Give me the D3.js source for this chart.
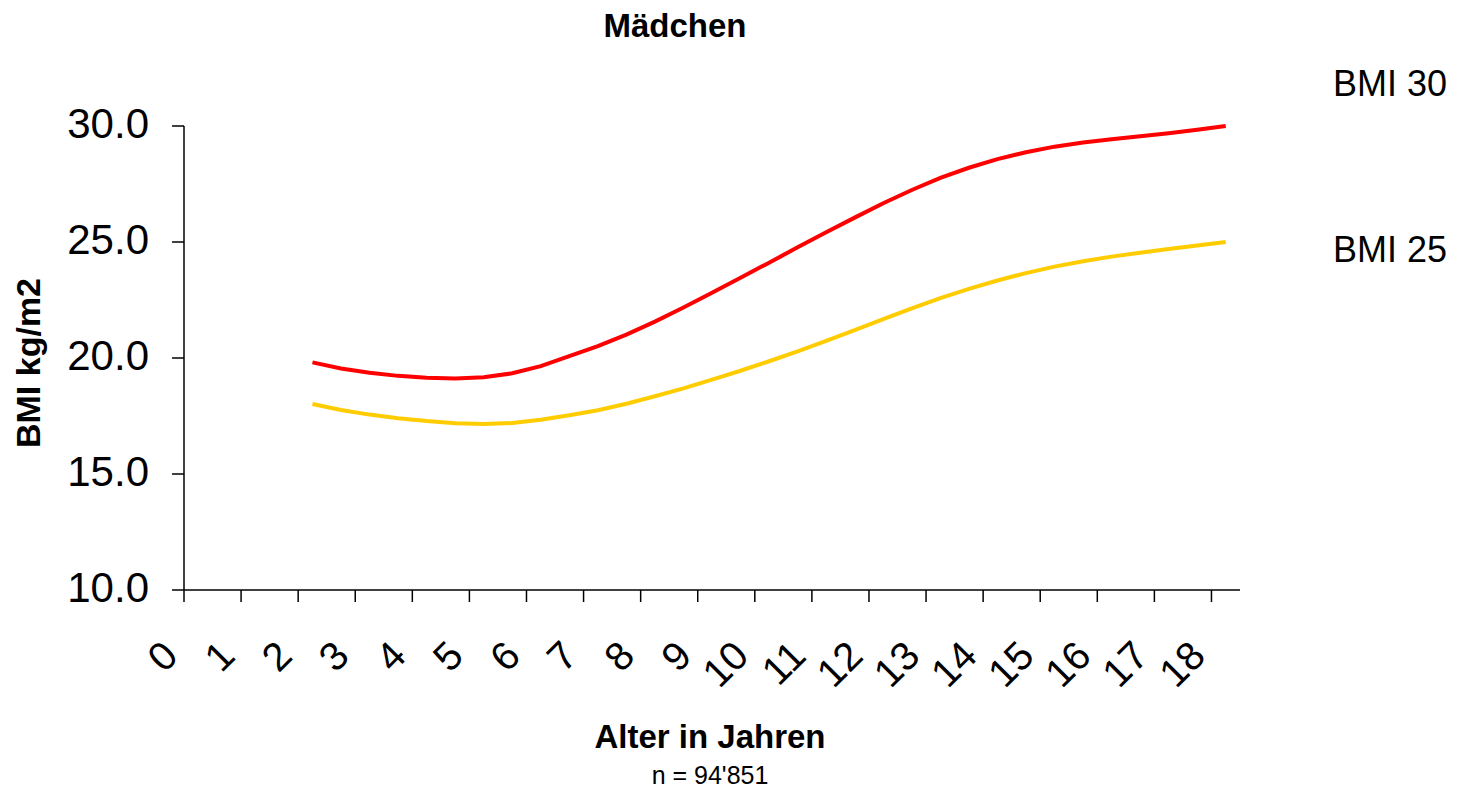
<!DOCTYPE html>
<html>
<head>
<meta charset="utf-8">
<script src="https://cdn.jsdelivr.net/npm/d3@7"></script>
<style>
  body { margin: 0; background: #fff; }
  text { font-family: Arial, "Liberation Sans", sans-serif; fill: #000; }
</style>
</head>
<body>
<script>
// categories (half years on the axis)
const halfYears = ["0","0.5","1","1.5","2","2.5","3","3.5","4","4.5","5","5.5","6","6.5","7","7.5","8","8.5","9","9.5",
  "10","10.5","11","11.5","12","12.5","13","13.5","14","14.5","15","15.5","16","16.5","17","17.5","18"];
const yearLabels = ["0","1","2","3","4","5","6","7","8","9","10","11","12","13","14","15","16","17","18"];
const yTicks = [10, 15, 20, 25, 30];

// data ages 2..18
const ages = ["2","2.5","3","3.5","4","4.5","5","5.5","6","6.5","7","7.5","8","8.5","9","9.5",
  "10","10.5","11","11.5","12","12.5","13","13.5","14","14.5","15","15.5","16","16.5","17","17.5","18"];
const bmi30 = [19.81,19.55,19.36,19.23,19.15,19.12,19.17,19.34,19.65,20.08,20.51,21.01,21.57,22.18,22.81,23.46,
  24.11,24.77,25.42,26.05,26.67,27.24,27.76,28.20,28.57,28.87,29.11,29.29,29.43,29.56,29.69,29.84,30.0];
const bmi25 = [18.02,17.76,17.56,17.40,17.28,17.19,17.15,17.20,17.34,17.53,17.75,18.03,18.35,18.69,19.07,19.45,
  19.86,20.29,20.74,21.20,21.68,22.14,22.58,22.98,23.34,23.66,23.94,24.17,24.37,24.54,24.70,24.85,25.0];

let width = 1461, height = 788;
let margin = {top: 126, bottom: 198, left: 184, right: 221};

let svg = d3.select('body')
  .append('svg')
    .attr('width', width)
    .attr('height', height);

// Scales
let xScale = d3.scaleBand()
  .domain(halfYears)
  .range([margin.left, width - margin.right])
  .paddingInner(0).paddingOuter(0);

let yScale = d3.scaleLinear()
  .domain([10, 30])
  .range([height - margin.bottom, margin.top]);

let y0 = yScale(10);

// Y axis
svg.append('line')
  .attr('x1', margin.left).attr('x2', margin.left)
  .attr('y1', yScale(30)).attr('y2', y0)
  .attr('stroke', '#000').attr('stroke-width', 1.5);

svg.selectAll('.ytick')
  .data(yTicks)
  .enter().append('line')
    .attr('x1', margin.left - 12).attr('x2', margin.left)
    .attr('y1', d => yScale(d)).attr('y2', d => yScale(d))
    .attr('stroke', '#000').attr('stroke-width', 1.5);

svg.selectAll('.ylab')
  .data(yTicks)
  .enter().append('text')
    .attr('x', 149)
    .attr('y', d => yScale(d) - 3)
    .attr('dy', '0.36em')
    .attr('text-anchor', 'end')
    .style('font-size', '42px')
    .text(d => d.toFixed(1));

// X axis
svg.append('line')
  .attr('x1', margin.left).attr('x2', width - margin.right)
  .attr('y1', y0).attr('y2', y0)
  .attr('stroke', '#000').attr('stroke-width', 1.5);

svg.selectAll('.xtick')
  .data(yearLabels)
  .enter().append('line')
    .attr('x1', d => xScale(d)).attr('x2', d => xScale(d))
    .attr('y1', y0).attr('y2', y0 + 12)
    .attr('stroke', '#000').attr('stroke-width', 1.5);

svg.selectAll('.xlab')
  .data(yearLabels)
  .enter().append('text')
    .attr('transform', d => `translate(${xScale(d) - 4},${y0 + 68}) rotate(-45)`)
    .attr('text-anchor', 'end')
    .style('font-size', '40px')
    .text(d => d);

// Lines
let line = d3.line()
  .x((d, i) => xScale(ages[i]) + xScale.bandwidth() / 2)
  .y(d => yScale(d));

svg.append('path')
  .datum(bmi25)
  .attr('d', line)
  .attr('fill', 'none')
  .attr('stroke', '#FFCC00')
  .attr('stroke-width', 4);

svg.append('path')
  .datum(bmi30)
  .attr('d', line)
  .attr('fill', 'none')
  .attr('stroke', '#FF0000')
  .attr('stroke-width', 4);

// Texts
svg.append('text')
  .attr('x', 675).attr('y', 37)
  .attr('text-anchor', 'middle')
  .style('font-size', '33px').style('font-weight', 'bold')
  .text('Mädchen');

svg.append('text')
  .attr('x', 1447).attr('y', 96)
  .attr('text-anchor', 'end')
  .style('font-size', '36px')
  .text('BMI 30');

svg.append('text')
  .attr('x', 1447).attr('y', 262)
  .attr('text-anchor', 'end')
  .style('font-size', '36px')
  .text('BMI 25');

svg.append('text')
  .attr('transform', `translate(40,363) rotate(-90)`)
  .attr('text-anchor', 'middle')
  .style('font-size', '34px').style('font-weight', 'bold')
  .text('BMI kg/m2');

svg.append('text')
  .attr('x', 710).attr('y', 748)
  .attr('text-anchor', 'middle')
  .style('font-size', '33px').style('font-weight', 'bold')
  .text('Alter in Jahren');

svg.append('text')
  .attr('x', 710).attr('y', 784)
  .attr('text-anchor', 'middle')
  .style('font-size', '25px')
  .text("n = 94'851");
</script>
</body>
</html>
